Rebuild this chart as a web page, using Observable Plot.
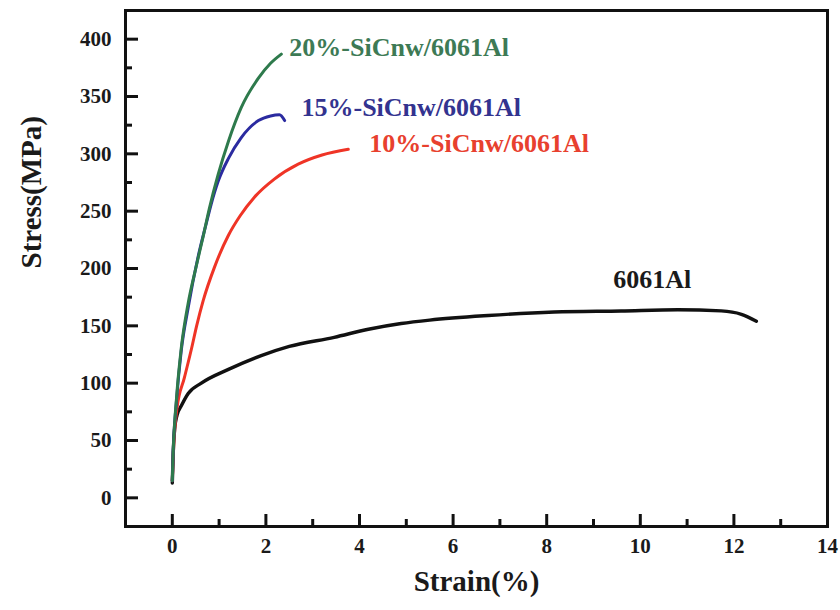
<!DOCTYPE html>
<html><head><meta charset="utf-8">
<script src="https://cdn.jsdelivr.net/npm/d3@7"></script>
<script src="https://cdn.jsdelivr.net/npm/@observablehq/plot@0.6"></script>
<style>body{margin:0;background:#fff}</style>
</head><body><div id="chart"></div>
<script>
// 6061Al
const strainAl = [0, 0.02, 0.05, 0.1, 0.19, 0.34, 0.62, 1.2, 1.9, 2.5, 3.46, 4.19, 4.89, 5.5, 6.75, 8.16, 9.59, 10.8, 11.73, 12.16, 12.48];
const stressAl = [13, 40, 60, 72, 80, 91, 100, 112, 124, 132, 140, 147, 152, 155, 159, 162, 163, 164, 163, 160, 154];
// 10%-SiCnw/6061Al
const strain10 = [0, 0.03, 0.1, 0.26, 0.41, 0.52, 0.66, 0.9, 1.2, 1.45, 1.75, 2.18, 2.69, 3.2, 3.76];
const stress10 = [15, 45, 78, 105, 130, 150, 172, 201, 229, 246, 262, 278, 291, 299, 304];
// 15%-SiCnw/6061Al
const strain15 = [0, 0.02, 0.09, 0.19, 0.34, 0.55, 0.73, 0.83, 0.98, 1.2, 1.47, 1.84, 2.1, 2.29, 2.4];
const stress15 = [15, 41, 85, 128, 166, 210, 240, 256, 276, 296, 314, 329, 333, 334, 329];
// 20%-SiCnw/6061Al
const strain20 = [0, 0.02, 0.09, 0.19, 0.34, 0.5, 0.66, 0.79, 0.98, 1.2, 1.47, 1.84, 2.1, 2.33];
const stress20 = [15, 41, 87, 130, 170, 200, 228, 252, 282, 311, 340, 366, 379, 387];

const seriesNames = ["6061Al", "10%-SiCnw/6061Al", "15%-SiCnw/6061Al", "20%-SiCnw/6061Al"];
const lineColors = ["#111111", "#ef3426", "#2b2ba0", "#2e7a4c"];
const textColors = ["#1a1a1a", "#e8402e", "#33338f", "#3d7a55"];
const labelX = [9.42, 4.21, 2.76, 2.50];
const labelY = [190, 309, 340, 393];

const xTicks = [0, 2, 4, 6, 8, 10, 12, 14];
const xMinor = [1, 3, 5, 7, 9, 11, 13];
const yTicks = [0, 50, 100, 150, 200, 250, 300, 350, 400];
const yMinor = [25, 75, 125, 175, 225, 275, 325, 375];

const strains = [strainAl, strain10, strain15, strain20];
const stresses = [stressAl, stress10, stress15, stress20];
const rows = [];
seriesNames.forEach((n, i) => strains[i].forEach((s, j) => rows.push({name: n, strain: s, stress: stresses[i][j], idx: i})));
const labels = seriesNames.map((n, i) => ({name: n, x: labelX[i], y: labelY[i], color: textColors[i]}));

const W = 840, H = 610, mL = 125, mR = 13, mT = 10, mB = 84;
const fw = W - mL - mR, fh = H - mT - mB;
const font = "'Liberation Serif', 'Times New Roman', serif";
const tickColor = "#111";
const lineMarks = seriesNames.map((n, i) => Plot.line(rows.filter(d => d.idx === i), {
  x: "strain", y: "stress", stroke: lineColors[i], strokeWidth: i === 0 ? 3.4 : 3, curve: "monotone-x"
}));

const chart = Plot.plot({
  width: W, height: H,
  marginLeft: mL, marginRight: mR, marginTop: mT, marginBottom: mB,
  style: {fontFamily: font, fontWeight: "bold", color: "#1a1a1a", background: "#fff"},
  x: {domain: [-1, 14]},
  y: {domain: [-25, 425]},
  marks: [
    ...lineMarks,
    Plot.axisX(xTicks, {tickSize: 0, tickPadding: 12, fontSize: 21, label: null}),
    Plot.axisY(yTicks, {tickSize: 0, tickPadding: 14, fontSize: 21, label: null}),
    Plot.ruleX(xTicks, {x: d => d, insetTop: fh - 12, stroke: tickColor, strokeWidth: 3}),
    Plot.ruleX(xMinor, {x: d => d, insetTop: fh - 7, stroke: tickColor, strokeWidth: 3}),
    Plot.ruleY(yTicks, {y: d => d, insetRight: fw - 13, stroke: tickColor, strokeWidth: 3}),
    Plot.ruleY(yMinor, {y: d => d, insetRight: fw - 7, stroke: tickColor, strokeWidth: 3}),
    Plot.frame({strokeWidth: 3, stroke: "#111"}),
    Plot.text(labels, {x: "x", y: "y", text: "name", fill: "color", textAnchor: "start", fontSize: 26, fontWeight: "bold"}),
    Plot.text(["Strain(%)"], {frameAnchor: "bottom", dy: 64, fontSize: 29, fontWeight: "bold", fill: "#1a1a1a"}),
    Plot.text(["Stress(MPa)"], {frameAnchor: "left", dx: -94, rotate: -90, fontSize: 29, fontWeight: "bold", fill: "#1a1a1a"})
  ]
});
document.getElementById("chart").appendChild(chart);
</script>
</body></html>
